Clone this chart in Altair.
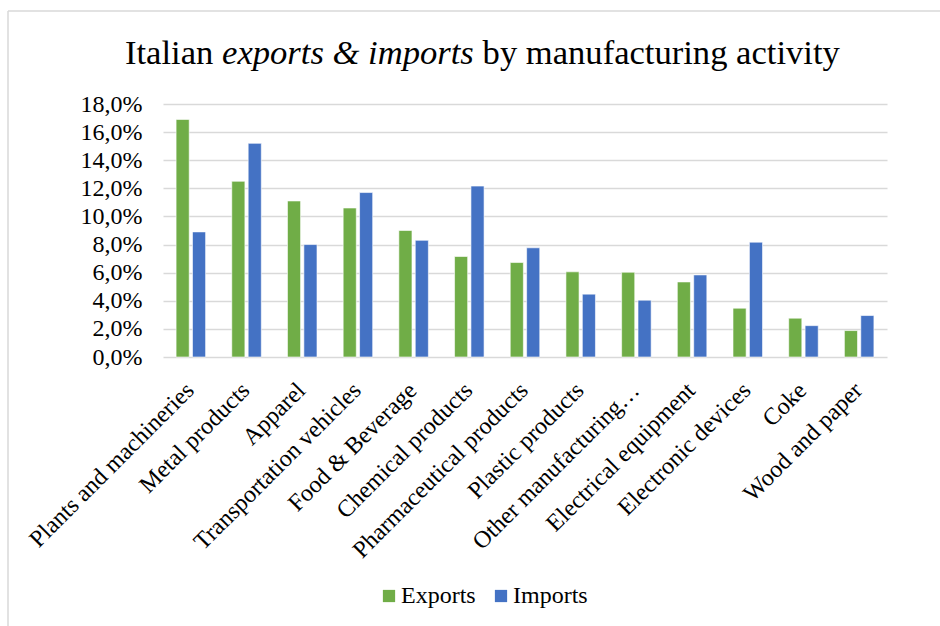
import altair as alt
import pandas as pd

categories = ["Plants and machineries", "Metal products", "Apparel", "Transportation vehicles",
              "Food & Beverage", "Chemical products", "Pharmaceutical products", "Plastic products",
              "Other manufacturing…", "Electrical equipment", "Electronic devices", "Coke",
              "Wood and paper"]
exports = [0.169, 0.125, 0.111, 0.106, 0.090, 0.0715, 0.0672, 0.0606, 0.0603, 0.0534, 0.0347, 0.0276, 0.0188]
imports = [0.089, 0.152, 0.080, 0.117, 0.083, 0.1216, 0.0777, 0.0447, 0.0404, 0.0584, 0.0817, 0.0223, 0.0295]
series = ["Exports", "Imports"]
colors = ["#70AD47", "#4472C4"]
y_ticks = [0, 0.02, 0.04, 0.06, 0.08, 0.10, 0.12, 0.14, 0.16, 0.18]

rows = []
for c, e, i in zip(categories, exports, imports):
    rows.append({"cat": c, "series": "Exports", "value": e})
    rows.append({"cat": c, "series": "Imports", "value": i})
df = pd.DataFrame(rows)

FONT = "Liberation Serif"

bars = alt.Chart(df).mark_bar(stroke="white", strokeWidth=0.6).encode(
    x=alt.X("cat:N", sort=categories, title=None,
            scale=alt.Scale(paddingInner=0.47, paddingOuter=0.235),
            axis=alt.Axis(labelAngle=-45, labelFontSize=24, labelFont=FONT, labelColor="#000000",
                          labelLimit=400, labelPadding=21, labelOffset=-9, ticks=False, domain=False)),
    xOffset=alt.XOffset("series:N", sort=series, scale=alt.Scale(paddingInner=0.2, paddingOuter=0)),
    y=alt.Y("value:Q", title=None,
            scale=alt.Scale(domain=[0, 0.18], nice=False),
            axis=alt.Axis(values=y_ticks, labelExpr="replace(format(datum.value, '.1%'), '.', ',')",
                          labelFontSize=24, labelFont=FONT, labelColor="#000000", labelPadding=21,
                          ticks=False, domain=False, grid=True, gridColor="#d9d9d9", gridWidth=1.5)),
    color=alt.Color("series:N", sort=series, scale=alt.Scale(domain=series, range=colors),
                    legend=alt.Legend(title=None, orient="none", legendX=214, legendY=480,
                                      direction="horizontal", symbolType="square", symbolSize=150,
                                      symbolStrokeWidth=0, labelFontSize=24, labelFont=FONT,
                                      labelColor="#000000", columnPadding=13, labelOffset=0,
                                      padding=0)),
)

title_parts = [
    ("Italian ", "normal", -38),
    ("exports & imports ", "italic", 59.1),
    ("by manufacturing activity", "normal", 319.6),
]
title_layers = []
for txt, style, xpos in title_parts:
    title_layers.append(
        alt.Chart(pd.DataFrame({"t": [txt]})).mark_text(
            font=FONT, fontSize=34.6, fontStyle=style, align="left", baseline="alphabetic",
            color="#000000"
        ).encode(text="t:N", x=alt.value(xpos), y=alt.value(-39.7))
    )

frame_top = alt.Chart(pd.DataFrame({"a": [0]})).mark_rule(color="#d9d9d9", strokeWidth=1.5).encode(
    x=alt.value(-155), x2=alt.value(800), y=alt.value(-93))
frame_left = alt.Chart(pd.DataFrame({"a": [0]})).mark_rule(color="#d9d9d9", strokeWidth=1.5).encode(
    x=alt.value(-155), y=alt.value(-93), y2=alt.value(600))

chart = alt.layer(frame_top, frame_left, bars, *title_layers).properties(
    width=724, height=253,
    padding={"left": 163, "top": 104, "right": 53, "bottom": 269},
    autosize=alt.AutoSizeParams(type="none"),
    background="white",
).configure_view(stroke=None)

chart.save("out.html", embed_options={"renderer": "svg", "actions": False})
